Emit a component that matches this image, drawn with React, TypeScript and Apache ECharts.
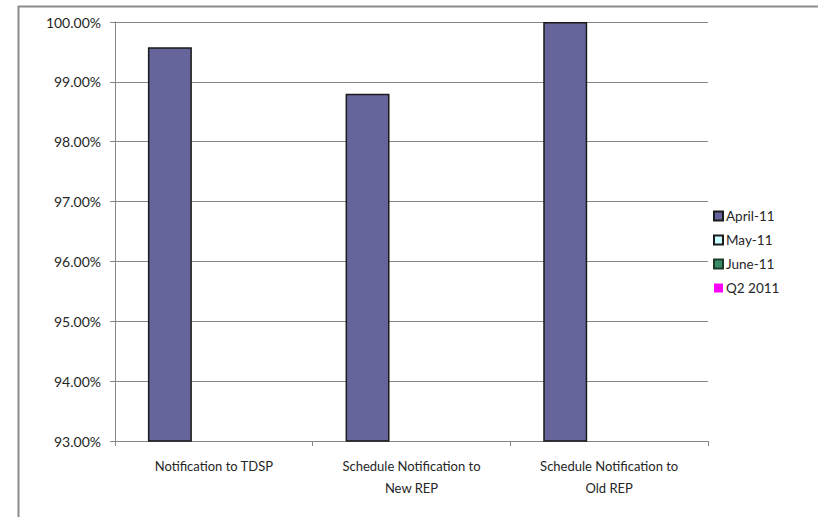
import React, { useEffect, useRef } from "react";
import * as echarts from "echarts";

const categories = [
  "Notification to TDSP",
  "Schedule Notification to\nNew REP",
  "Schedule Notification to\nOld REP",
];
const seriesNames = ["April-11", "May-11", "June-11", "Q2 2011"];
const april11 = [99.58, 98.8, 100.0];
const may11: (number | string)[] = ["-", "-", "-"];
const june11: (number | string)[] = ["-", "-", "-"];
const q22011: (number | string)[] = ["-", "-", "-"];
const yMin = 93;
const yMax = 100;
const yStep = 1;

export default function App() {
  const ref = useRef<HTMLDivElement>(null);
  useEffect(() => {
    if (!ref.current) return;
    const chart = echarts.init(ref.current, null, { renderer: "svg" });
    const font = "Lato, 'Open Sans', sans-serif";
    chart.setOption({
      animation: false,
      backgroundColor: "#ffffff",
      textStyle: { fontFamily: font },
      grid: { left: 115, top: 22, right: 110, bottom: 76, containLabel: false },
      graphic: [
        {
          type: "rect",
          left: 16,
          top: 4,
          shape: { width: 900, height: 700 },
          style: { fill: "none", stroke: "#8c8c8c", lineWidth: 2 },
          silent: true,
        },
      ],
      legend: {
        orient: "vertical",
        left: 708,
        top: 204,
        itemWidth: 9,
        itemHeight: 9,
        itemGap: 10,
        textStyle: { fontFamily: font, fontSize: 13.5, color: "#262626", padding: [0, 0, 0, -2] },
        data: [
          { name: seriesNames[0], icon: "rect" },
          { name: seriesNames[1], icon: "rect" },
          { name: seriesNames[2], icon: "rect" },
          { name: seriesNames[3], icon: "rect", itemStyle: { color: "#ff00ff", borderWidth: 0 } },
        ],
      },
      xAxis: {
        type: "category",
        data: categories,
        axisLine: { lineStyle: { color: "#868686", width: 1 } },
        axisTick: { show: true, length: 5, lineStyle: { color: "#868686" } },
        axisLabel: {
          color: "#262626",
          fontSize: 13,
          fontFamily: font,
          lineHeight: 22,
          margin: 14,
        },
        splitLine: { show: false },
      },
      yAxis: {
        type: "value",
        min: yMin,
        max: yMax,
        interval: yStep,
        axisLine: { show: true, lineStyle: { color: "#868686", width: 1 } },
        axisTick: { show: true, length: 5, lineStyle: { color: "#868686" } },
        axisLabel: {
          color: "#262626",
          fontSize: 14,
          fontFamily: font,
          margin: 14,
          formatter: (v: number) => v.toFixed(2) + "%",
        },
        splitLine: { lineStyle: { color: "#868686", width: 1 } },
      },
      series: [
        {
          name: seriesNames[0],
          type: "bar",
          data: april11,
          barGap: "0%",
          barCategoryGap: "33.3%",
          itemStyle: { color: "#65659b", borderColor: "#1a1a1a", borderWidth: 1.5 },
        },
        {
          name: seriesNames[1],
          type: "bar",
          data: may11,
          itemStyle: { color: "#ccffff", borderColor: "#1a1a1a", borderWidth: 1 },
        },
        {
          name: seriesNames[2],
          type: "bar",
          data: june11,
          itemStyle: { color: "#3b8a66", borderColor: "#1a3a2a", borderWidth: 1 },
        },
        {
          name: seriesNames[3],
          type: "line",
          data: q22011,
          symbol: "rect",
          itemStyle: { color: "#ff00ff" },
          lineStyle: { color: "#ff00ff" },
        },
      ],
    });
    return () => chart.dispose();
  }, []);
  return (
    <div
      ref={ref}
      style={{ position: "fixed", left: 0, top: 0, width: 818, height: 517 }}
    />
  );
}
